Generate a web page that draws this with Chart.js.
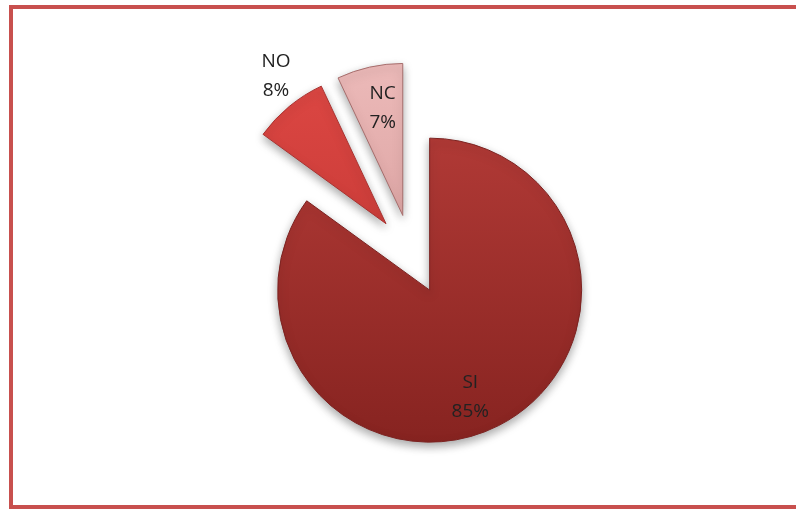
<!DOCTYPE html>
<html>
<head>
<meta charset="utf-8">
<script src="https://cdn.jsdelivr.net/npm/chart.js@4.4.1/dist/chart.umd.min.js"></script>
<style>
  html, body { margin: 0; padding: 0; background: #fff; overflow: hidden; width: 796px; height: 511px; }
  #cornice { position: absolute; left: 9px; top: 5px; width: 790px; height: 496px;
             border-left: 4px solid #c8504e; border-top: 4px solid #c8504e;
             border-bottom: 4px solid #c8504e; }
  #contenitore { position: absolute; left: 0; top: 0; width: 796px; height: 511px; }
</style>
</head>
<body>
<div id="cornice"></div>
<div id="contenitore"><canvas id="graficoRisposte"></canvas></div>
<script>
// risposte e percentuali
const categorie = ['SI', 'NO', 'NC'];
const percentuali = [85, 8, 7];

// colori delle fette (sopra / sotto del gradiente) e bordi
const coloriAlto = ['#bb3f3b', '#de4844', '#ecbab9'];
const coloriBasso = ['#862320', '#b42e2b', '#cb8a89'];
const coloriBordo = ['#7c2220', '#a93230', '#a66d6c'];

// distanza di esplosione, posizione etichette (frazione del raggio e dell'angolo)
const esplosione = [40, 40, 40];
const posEtichetta = [0.75, 1.21, 0.72];
const angEtichetta = [0.52, 0.6, 0.58];

// sposta le fette esplose lungo la bisettrice
const esplodiFette = {
  id: 'esplodiFette',
  afterDatasetUpdate(chart, args) {
    args.meta.data.forEach((arc, i) => {
      const d = esplosione[i];
      if (!d) return;
      const mid = (arc.startAngle + arc.endAngle) / 2;
      arc.x += Math.cos(mid) * d;
      arc.y += Math.sin(mid) * d;
    });
  }
};

// ombra morbida sotto la torta
const ombra = {
  id: 'ombra',
  beforeDatasetsDraw(chart) {
    const ctx = chart.ctx;
    ctx.save();
    ctx.shadowColor = 'rgba(0,0,0,0.35)';
    ctx.shadowBlur = 10;
    ctx.shadowOffsetY = 4;
  },
  afterDatasetsDraw(chart) {
    chart.ctx.restore();
  }
};

// etichette categoria + percentuale
const etichette = {
  id: 'etichette',
  afterDraw(chart) {
    const ctx = chart.ctx;
    const arcs = chart.getDatasetMeta(0).data;
    ctx.save();
    ctx.font = '19px "Open Sans", sans-serif';
    ctx.fillStyle = '#222222';
    ctx.textAlign = 'center';
    ctx.textBaseline = 'middle';
    arcs.forEach((arc, i) => {
      const a = arc.startAngle + (arc.endAngle - arc.startAngle) * angEtichetta[i];
      const r = arc.outerRadius * posEtichetta[i];
      const x = arc.x + Math.cos(a) * r;
      const y = arc.y + Math.sin(a) * r;
      ctx.fillText(categorie[i], x, y - 14.5);
      ctx.fillText(percentuali[i] + '%', x, y + 14.5);
    });
    ctx.restore();
  }
};

new Chart(document.getElementById('graficoRisposte'), {
  type: 'pie',
  data: {
    labels: categorie,
    datasets: [{
      data: percentuali,
      backgroundColor(c) {
        const area = c.chart.chartArea;
        const i = c.dataIndex;
        if (!area) return coloriAlto[i];
        const g = c.chart.ctx.createLinearGradient(0, area.top - 40, 0, area.bottom + 40);
        g.addColorStop(0, coloriAlto[i]);
        g.addColorStop(1, coloriBasso[i]);
        return g;
      },
      borderColor: coloriBordo,
      borderWidth: 1,
      hoverOffset: 0
    }]
  },
  options: {
    responsive: true,
    maintainAspectRatio: false,
    animation: false,
    events: [],
    layout: { padding: { top: 102, bottom: 104, left: 259, right: 232 } },
    plugins: {
      legend: { display: false },
      tooltip: { enabled: false }
    }
  },
  plugins: [esplodiFette, ombra, etichette]
});
</script>
</body>
</html>
